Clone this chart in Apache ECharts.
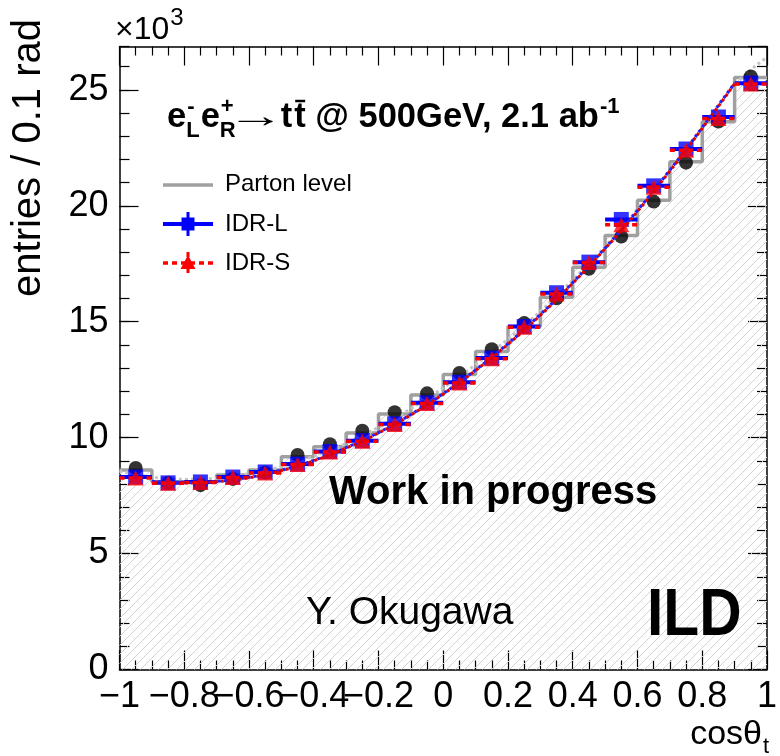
<!DOCTYPE html>
<html>
<head>
<meta charset="utf-8">
<script src="https://cdn.jsdelivr.net/npm/echarts@6/dist/echarts.min.js"></script>
<style>
  html, body { margin: 0; padding: 0; background: #ffffff; }
  #chart { width: 780px; height: 756px; }
</style>
</head>
<body>
<div id="chart"></div>
<script>
// cos(theta_t) binning: 20 bins of width 0.1
const binEdges = [-1.0, -0.9, -0.8, -0.7, -0.6, -0.5, -0.4, -0.3, -0.2, -0.1, 0.0,
                  0.1, 0.2, 0.3, 0.4, 0.5, 0.6, 0.7, 0.8, 0.9, 1.0];

// Parton level histogram (x10^3 entries per bin)
const partonLevel = [8.60, 8.10, 8.10, 8.39, 8.60, 9.18, 9.61, 10.20, 11.02, 11.84,
                     12.72, 13.72, 14.79, 16.05, 17.35, 18.72, 20.24, 21.90, 23.62, 25.53];
// Black markers on the parton level histogram
const partonPoints = [8.69, 8.05, 7.95, 8.22, 8.50, 9.25, 9.72, 10.30, 11.10, 11.91,
                      12.79, 13.81, 14.94, 16.01, 17.28, 18.67, 20.18, 21.86, 23.63, 25.58];
// Reconstructed, IDR-L detector model
const idrL = [8.30, 8.05, 8.09, 8.30, 8.52, 8.86, 9.40, 9.87, 10.60, 11.50,
              12.39, 13.43, 14.79, 16.25, 17.57, 19.41, 20.86, 22.45, 23.83, 25.29];
// Reconstructed, IDR-S detector model
const idrS = [8.26, 8.03, 8.07, 8.28, 8.48, 8.84, 9.38, 9.84, 10.57, 11.47,
              12.36, 13.40, 14.76, 16.20, 17.55, 19.18, 20.80, 22.40, 23.76, 25.25];

// Fitted curves
const fitX = [-0.9, -0.8, -0.7, -0.6, -0.5, -0.4, -0.3, -0.2, -0.1, 0.0,
              0.1, 0.2, 0.3, 0.4, 0.5, 0.6, 0.7, 0.8, 0.9];
const fitL = [8.12, 8.06, 8.12, 8.29, 8.60, 9.02, 9.57, 10.22, 11.00, 11.90,
              12.92, 14.06, 15.31, 16.69, 18.18, 19.80, 21.54, 23.38, 25.30];
const fitS = [8.10, 8.04, 8.10, 8.27, 8.58, 9.00, 9.55, 10.20, 10.98, 11.88,
              12.90, 14.03, 15.28, 16.66, 18.15, 19.76, 21.50, 23.34, 25.26];
const partonFitX = [-1.0, -0.9, -0.8, -0.7, -0.6, -0.5, -0.4, -0.3, -0.2, -0.1, 0.0,
                    0.1, 0.2, 0.3, 0.4, 0.5, 0.6, 0.7, 0.8, 0.9, 1.0];
const partonFit = [8.55, 8.30, 8.20, 8.25, 8.45, 8.75, 9.20, 9.75, 10.45, 11.25, 12.15,
                   13.15, 14.25, 15.45, 16.80, 18.25, 19.85, 21.55, 23.35, 25.20, 26.40];

// Axis ticks and labels
const xTickValues = [-1, -0.8, -0.6, -0.4, -0.2, 0, 0.2, 0.4, 0.6, 0.8, 1];
const xTickLabels = ['\u22121', '\u22120.8', '\u22120.6', '\u22120.4', '\u22120.2', '0',
                     '0.2', '0.4', '0.6', '0.8', '1'];
const yTickValues = [0, 5, 10, 15, 20, 25];
const yTickLabels = ['0', '5', '10', '15', '20', '25'];
const yMax = 26.87;

const FONT = '"Liberation Sans", Arial, Helvetica, sans-serif';

// ---------- derived series data ----------
const binCenters = binEdges.slice(0, -1).map((e, i) => (e + binEdges[i + 1]) / 2);
const halfWidth = binEdges.slice(0, -1).map((e, i) => (binEdges[i + 1] - e) / 2);
const stepData = binEdges.map((e, i) => [e, partonLevel[Math.min(i, partonLevel.length - 1)]]);
const withWidth = (xs, ys) => xs.map((x, i) => [x, ys[i], halfWidth[i]]);

// diagonal hatching for the parton level histogram
function hatchCanvas() {
  const s = 9;
  const c = document.createElement('canvas');
  c.width = s; c.height = s;
  const g = c.getContext('2d');
  g.strokeStyle = '#d2d2d2';
  g.lineWidth = 1;
  g.beginPath();
  g.moveTo(0, s); g.lineTo(s, 0);
  g.moveTo(-s / 2, s / 2); g.lineTo(s / 2, -s / 2);
  g.moveTo(s / 2, s * 1.5); g.lineTo(s * 1.5, s / 2);
  g.stroke();
  return c;
}

// horizontal bin-width error bars
function binBar(color, width, dash) {
  return function (params, api) {
    const x = api.value(0), y = api.value(1), hw = api.value(2);
    const p0 = api.coord([x - hw, y]);
    const p1 = api.coord([x + hw, y]);
    return {
      type: 'line',
      shape: { x1: p0[0], y1: p0[1], x2: p1[0], y2: p1[1] },
      style: { stroke: color, lineWidth: width, lineDash: dash || null }
    };
  };
}

// text helpers (positions given by baseline)
const mctx = document.createElement('canvas').getContext('2d');
function tw(str, font) { mctx.font = font; return mctx.measureText(str).width; }
function txt(str, x, baseline, size, weight, family, sx) {
  return {
    type: 'text', z: 50,
    x: x, y: baseline - 0.34 * size, scaleX: sx || 1,
    style: {
      text: str, x: 0, y: 0,
      font: (weight || 'normal') + ' ' + size + 'px ' + (family || FONT),
      fill: '#000', verticalAlign: 'middle', align: 'left'
    }
  };
}

function buildTitle() {
  const els = [];
  const B = 34.5, S = 22, base = 129;
  const fb = 'bold ' + B + 'px ' + FONT, fs = 'bold ' + S + 'px ' + FONT;
  let x = 167;
  const push = (t) => { els.push(txt(t, x, base, B, 'bold')); };
  // e_L^-
  push('e'); x += tw('e', fb);
  els.push(txt('-', x + 1, base - 15, S, 'bold'));
  els.push(txt('L', x, base + 9, S, 'bold'));
  x += tw('L', fs) + 1;
  // e_R^+
  push('e'); x += tw('e', fb);
  els.push(txt('+', x + 1, base - 15, S, 'bold'));
  els.push(txt('R', x, base + 9, S, 'bold'));
  x += tw('R', fs) + 1;
  // long thin arrow
  els.push(txt('\u2192', x - 10, base, 34, 'normal', FONT, 1.7));
  x += 44;
  // t tbar
  push('t'); x += tw('t', fb) + 2;
  const tx = x;
  push('t'); x += tw('t', fb);
  els.push({ type: 'line', z: 50, shape: { x1: tx + 1, y1: base - 28, x2: tx + tw('t', fb) - 0.5, y2: base - 28 },
             style: { stroke: '#000', lineWidth: 2.5 } });
  const rest = ' @ 500GeV, 2.1 ab';
  push(rest); x += tw(rest, fb);
  els.push(txt('-1', x + 1, base - 15, S, 'bold'));
  return els;
}

function buildLegend() {
  const els = [];
  const x0 = 163, x1 = 213, xm = 188;
  const rows = [185, 224, 263];
  // Parton level
  els.push({ type: 'line', z: 50, shape: { x1: x0, y1: rows[0], x2: x1, y2: rows[0] },
             style: { stroke: '#a0a0a0', lineWidth: 3.5 } });
  // IDR-L
  els.push({ type: 'line', z: 50, shape: { x1: x0, y1: rows[1], x2: x1, y2: rows[1] },
             style: { stroke: '#0000ff', lineWidth: 4 } });
  els.push({ type: 'line', z: 50, shape: { x1: xm, y1: rows[1] - 12, x2: xm, y2: rows[1] + 12 },
             style: { stroke: '#0000ff', lineWidth: 3 } });
  els.push({ type: 'rect', z: 51, shape: { x: xm - 6.5, y: rows[1] - 6.5, width: 13, height: 13 },
             style: { fill: '#0000ff' } });
  // IDR-S
  els.push({ type: 'line', z: 50, shape: { x1: x0, y1: rows[2], x2: x1, y2: rows[2] },
             style: { stroke: '#ff0000', lineWidth: 3.5, lineDash: [5, 4] } });
  els.push({ type: 'line', z: 50, shape: { x1: xm, y1: rows[2] - 11, x2: xm, y2: rows[2] + 11 },
             style: { stroke: '#ff0000', lineWidth: 3, lineDash: [5, 3] } });
  els.push({ type: 'polygon', z: 51, shape: { points: [[xm, rows[2] - 8], [xm - 7.5, rows[2] + 6], [xm + 7.5, rows[2] + 6]] },
             style: { fill: '#ff0000' } });
  els.push(txt('Parton level', 225, rows[0] + 8, 24));
  els.push(txt('IDR-L', 225, rows[1] + 8.5, 24));
  els.push(txt('IDR-S', 225, rows[2] + 8.5, 24));
  return els;
}

function buildLabels() {
  const els = [];
  // multiplier on the y axis
  els.push(txt('\u00d710', 115, 41, 32));
  els.push(txt('3', 115 + tw('\u00d710', '32px ' + FONT) + 1, 27, 24));
  // y axis title
  els.push({
    type: 'text', z: 50, x: 29, y: 158, rotation: Math.PI / 2,
    style: { text: 'entries / 0.1 rad', font: '40px ' + FONT, fill: '#000', align: 'center', verticalAlign: 'middle' }
  });
  // x axis title cos(theta)_t
  const f = '34px ' + FONT;
  const xs = 762 - tw('cos\u03b8', f);
  els.push(txt('cos\u03b8', xs, 746, 34));
  els.push(txt('t', 763, 754, 22));
  // annotations
  els.push(txt('Work in progress', 329, 507, 40, 'bold'));
  els.push(txt('Y. Okugawa', 306, 627, 39));
  els.push(txt('ILD', 647, 639, 66, 'bold', FONT, 0.89));
  return els;
}

const xLabelFmt = v => {
  let best = 0;
  xTickValues.forEach((t, i) => { if (Math.abs(t - v) < Math.abs(xTickValues[best] - v)) best = i; });
  return Math.abs(xTickValues[best] - v) < 1e-6 ? xTickLabels[best] : '';
};
const yLabelFmt = v => {
  const i = yTickValues.findIndex(t => Math.abs(t - v) < 1e-6);
  return i >= 0 ? yTickLabels[i] : '';
};

const axisLine = { show: true, onZero: false, lineStyle: { color: '#000', width: 1.5 } };
const tickStyle = { color: '#000', width: 1.2 };
const xAxisBase = {
  type: 'value', min: -1, max: 1, interval: 0.2,
  axisLine: axisLine, splitLine: { show: false },
  axisTick: { show: true, inside: true, length: 19, lineStyle: tickStyle },
  minorTick: { show: true, splitNumber: 4, length: 9, lineStyle: tickStyle },
  minorSplitLine: { show: false }
};
const yMajor = {
  type: 'value', min: 0, max: yMax, interval: 5,
  splitLine: { show: false }, axisLine: axisLine,
  axisTick: { show: true, inside: true, length: 19, lineStyle: tickStyle }
};
const yMinor = {
  type: 'value', min: 0, max: yMax, interval: 1,
  splitLine: { show: false }, axisLine: { show: false, onZero: false }, axisLabel: { show: false },
  axisTick: { show: true, inside: true, length: 10, lineStyle: tickStyle }
};
const tickFont = { fontSize: 36, fontFamily: FONT, color: '#000' };

const chart = echarts.init(document.getElementById('chart'), null, { renderer: 'canvas' });
chart.setOption({
  animation: false,
  backgroundColor: '#ffffff',
  grid: { left: 119.5, right: 7.5, top: 46.5, bottom: 86.5, show: false },
  xAxis: [
    Object.assign({}, xAxisBase, {
      position: 'bottom',
      axisLabel: Object.assign({ show: true, formatter: xLabelFmt, margin: 10,
                                 showMinLabel: true, showMaxLabel: true }, tickFont)
    }),
    Object.assign({}, xAxisBase, { position: 'top', axisLabel: { show: false } })
  ],
  yAxis: [
    Object.assign({}, yMajor, {
      position: 'left',
      axisLabel: Object.assign({ show: true, formatter: yLabelFmt, margin: 11, showMaxLabel: false }, tickFont)
    }),
    Object.assign({}, yMinor, { position: 'left' }),
    Object.assign({}, yMajor, { position: 'right', axisLabel: { show: false } }),
    Object.assign({}, yMinor, { position: 'right' })
  ],
  series: [
    {
      name: 'Parton level', type: 'line', step: 'end', z: 1,
      data: stepData, symbol: 'none',
      lineStyle: { color: '#a0a0a0', width: 3.5 },
      areaStyle: { color: { image: hatchCanvas(), repeat: 'repeat' }, opacity: 1, origin: 'start' }
    },
    {
      name: 'Parton fit', type: 'line', smooth: true, z: 2, symbol: 'none',
      data: partonFitX.map((x, i) => [x, partonFit[i]]),
      lineStyle: { color: '#c4c4c4', width: 3, type: [3, 3] }
    },
    {
      name: 'Parton points', type: 'scatter', z: 3, symbol: 'circle', symbolSize: 14,
      data: binCenters.map((x, i) => [x, partonPoints[i]]),
      itemStyle: { color: '#000' }
    },
    {
      name: 'IDR-L bars', type: 'custom', z: 4, renderItem: binBar('#0000ff', 4),
      data: withWidth(binCenters, idrL)
    },
    {
      name: 'IDR-L', type: 'scatter', z: 5, symbol: 'rect', symbolSize: 15,
      data: binCenters.map((x, i) => [x, idrL[i]]),
      itemStyle: { color: '#0000ff' }
    },
    {
      name: 'IDR-L fit', type: 'line', smooth: true, z: 6, symbol: 'none',
      data: fitX.map((x, i) => [x, fitL[i]]),
      lineStyle: { color: '#2020ff', width: 3, type: [3, 3] }
    },
    {
      name: 'IDR-S bars', type: 'custom', z: 7, renderItem: binBar('#ff0000', 3.5, [5, 4]),
      data: withWidth(binCenters, idrS)
    },
    {
      name: 'IDR-S', type: 'scatter', z: 8, symbol: 'triangle', symbolSize: [16, 15],
      data: binCenters.map((x, i) => [x, idrS[i]]),
      itemStyle: { color: '#ff0000' }
    },
    {
      name: 'IDR-S fit', type: 'line', smooth: true, z: 9, symbol: 'none',
      data: fitX.map((x, i) => [x, fitS[i]]),
      lineStyle: { color: '#e00000', width: 3, type: [3, 3], dashOffset: 3 }
    }
  ],
  graphic: { elements: buildTitle().concat(buildLegend(), buildLabels()) }
});
</script>
</body>
</html>
